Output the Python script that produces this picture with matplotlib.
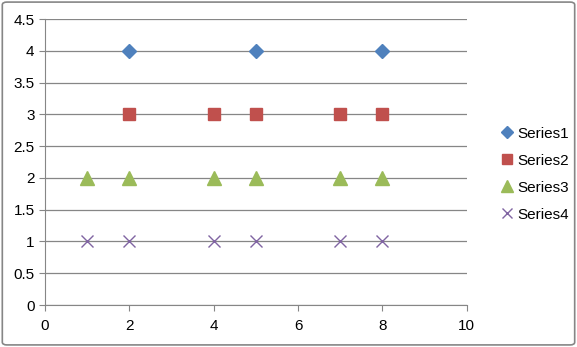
import matplotlib.pyplot as plt
from matplotlib.patches import FancyBboxPatch

plt.rcParams['font.family'] = ['Liberation Sans', 'DejaVu Sans']

s1_x = [2, 5, 8]
s1_y = [4, 4, 4]
s2_x = [2, 4, 5, 7, 8]
s2_y = [3, 3, 3, 3, 3]
s3_x = [1, 2, 4, 5, 7, 8]
s3_y = [2, 2, 2, 2, 2, 2]
s4_x = [1, 2, 4, 5, 7, 8]
s4_y = [1, 1, 1, 1, 1, 1]

fig = plt.figure(figsize=(5.77, 3.47), dpi=100)
ax = fig.add_axes([0.078, 0.121, 0.731, 0.824])

# outer chart border
fig.patches.append(FancyBboxPatch((0.004, 0.006), 0.992, 0.988,
                                  boxstyle="round,pad=0,rounding_size=0.008",
                                  transform=fig.transFigure, fill=False,
                                  edgecolor='#868686', linewidth=1.2))

ax.plot(s1_x, s1_y, 'D', color='#4F81BD', markersize=7, label='Series1', clip_on=False)
ax.plot(s2_x, s2_y, 's', color='#C0504D', markersize=9, label='Series2', clip_on=False)
ax.plot(s3_x, s3_y, '^', color='#9BBB59', markersize=10, label='Series3', clip_on=False)
ax.plot(s4_x, s4_y, 'x', color='#8064A2', markersize=9, markeredgewidth=1.0,
        label='Series4', clip_on=False)

ax.set_xlim(0, 10)
ax.set_ylim(0, 4.5)
ax.set_xticks(range(0, 11, 2))
ax.set_yticks([i * 0.5 for i in range(10)])
ax.set_yticklabels(['0', '0.5', '1', '1.5', '2', '2.5', '3', '3.5', '4', '4.5'])

ax.grid(axis='y', color='#868686', linewidth=0.9)
ax.set_axisbelow(True)
for side in ['top', 'right']:
    ax.spines[side].set_visible(False)
for side in ['left', 'bottom']:
    ax.spines[side].set_color('#868686')
ax.tick_params(axis='both', colors='#868686', labelcolor='black', labelsize=11,
               length=4, direction='out')
ax.tick_params(axis='x', pad=6)

ax.legend(loc='center left', bbox_to_anchor=(1.04, 0.458), frameon=False,
          fontsize=11, handletextpad=0.1, labelspacing=0.85, handlelength=1.2,
          markerscale=0.85)

fig.savefig('out.png')
